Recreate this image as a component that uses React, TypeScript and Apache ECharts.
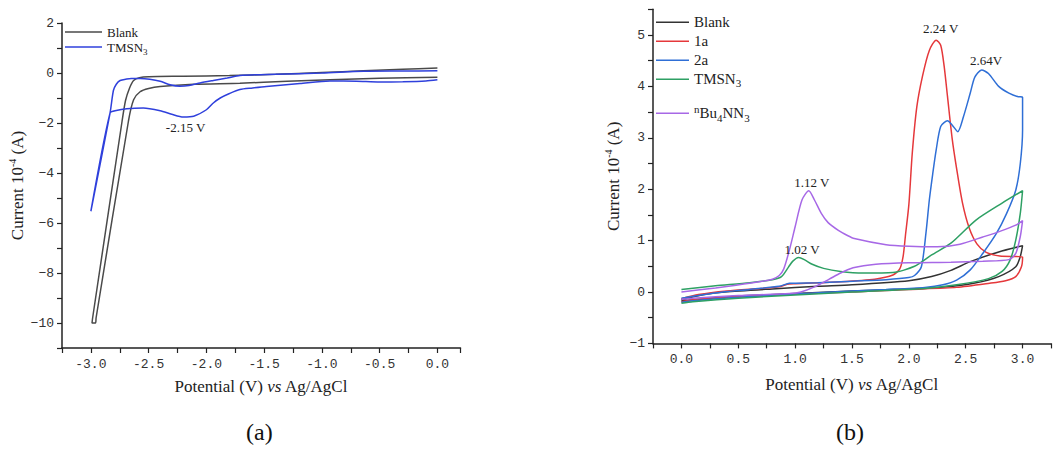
import React, { useEffect, useRef } from "react";
import * as echarts from "echarts";

type P = [number, number];

// ---------- Panel (a): potential (V) vs current (1e-4 A) ----------
const blankA: P[] = [
  [0, 0.2], [-0.3, 0.15], [-0.64, 0.09], [-1.0, 0.02], [-1.4, -0.05], [-1.8, -0.1], [-2.2, -0.13],
  [-2.5, -0.15], [-2.58, -0.19], [-2.63, -0.3], [-2.665, -0.6], [-2.7, -1.1], [-2.73, -1.93],
  [-2.985, -9.8], [-2.99, -10], [-2.96, -10], [-2.955, -9.8], [-2.675, -1.93], [-2.63, -1.07],
  [-2.574, -0.75], [-2.5, -0.62], [-2.4, -0.54], [-2.11, -0.45], [-1.71, -0.41], [-1.3, -0.33],
  [-0.93, -0.27], [-0.5, -0.21], [0, -0.17],
];
const tmsnA: P[] = [
  [0, 0.09], [-0.3, 0.08], [-0.64, 0.07], [-1.0, 0.0], [-1.4, -0.05], [-1.71, -0.1], [-1.82, -0.2],
  [-1.94, -0.3], [-2.055, -0.4], [-2.15, -0.5], [-2.23, -0.53], [-2.314, -0.47], [-2.4, -0.33],
  [-2.49, -0.25], [-2.574, -0.22], [-2.65, -0.22], [-2.69, -0.24], [-2.747, -0.3], [-2.78, -0.45],
  [-2.805, -0.7], [-2.834, -1.6], [-3.0, -5.53], [-2.834, -1.6], [-2.78, -1.5], [-2.69, -1.43],
  [-2.546, -1.4], [-2.4, -1.51], [-2.3, -1.65], [-2.2, -1.76], [-2.11, -1.73], [-2.0, -1.47],
  [-1.94, -1.2], [-1.88, -1.0], [-1.8, -0.82], [-1.71, -0.66], [-1.6, -0.6], [-1.48, -0.54],
  [-1.19, -0.42], [-0.93, -0.32], [-0.7, -0.33], [-0.5, -0.36], [-0.3, -0.35], [-0.1, -0.32],
  [0, -0.27],
];

// ---------- Panel (b) ----------
const blankB: P[] = [
  [0, -0.15], [0.2, -0.05], [0.38, 0.0], [0.8, 0.06], [1.2, 0.11], [1.5, 0.14], [2.0, 0.22],
  [2.2, 0.3], [2.37, 0.42], [2.54, 0.59], [2.79, 0.78], [3.0, 0.9], [2.98, 0.69], [2.94, 0.49],
  [2.79, 0.3], [2.57, 0.17], [2.28, 0.09], [2.0, 0.06], [1.5, 0.02], [1.0, -0.03], [0.5, -0.08],
  [0.1, -0.15], [0, -0.17],
];
const red1a: P[] = [
  [0, -0.13], [0.15, -0.05], [0.4, 0.02], [0.7, 0.07], [0.86, 0.1], [0.93, 0.15], [1.0, 0.16],
  [1.4, 0.2], [1.7, 0.25], [1.86, 0.33], [1.92, 0.45], [1.95, 0.7], [1.97, 1.1], [2.0, 1.7],
  [2.03, 2.7], [2.07, 3.6], [2.12, 4.2], [2.18, 4.7], [2.24, 4.9], [2.28, 4.8], [2.31, 4.4],
  [2.34, 3.8], [2.38, 3.0], [2.42, 2.4], [2.47, 1.75], [2.53, 1.25], [2.6, 0.93], [2.68, 0.77],
  [2.8, 0.7], [3.0, 0.68], [2.99, 0.49], [2.94, 0.3], [2.85, 0.22], [2.71, 0.17], [2.42, 0.09],
  [2.0, 0.05], [1.5, 0.0], [1.0, -0.04], [0.5, -0.09], [0.1, -0.15], [0, -0.19],
];
const blue2a: P[] = [
  [0, -0.12], [0.3, -0.02], [0.6, 0.05], [0.86, 0.11], [0.95, 0.17], [1.2, 0.18], [1.51, 0.21],
  [1.8, 0.24], [2.0, 0.28], [2.05, 0.32], [2.11, 0.49], [2.15, 1.14], [2.18, 1.79], [2.21, 2.3],
  [2.24, 2.76], [2.28, 3.22], [2.34, 3.33], [2.38, 3.25], [2.43, 3.12], [2.48, 3.41], [2.54, 3.87],
  [2.58, 4.18], [2.64, 4.32], [2.7, 4.25], [2.79, 4.0], [2.88, 3.87], [2.96, 3.8], [3.0, 3.79],
  [3.0, 3.15], [2.98, 2.5], [2.94, 1.98], [2.86, 1.53], [2.77, 1.14], [2.65, 0.75], [2.54, 0.43],
  [2.42, 0.23], [2.3, 0.14], [2.14, 0.09], [1.8, 0.05], [1.5, 0.02], [1.0, -0.04], [0.5, -0.1],
  [0.1, -0.17], [0, -0.2],
];
const tmsnB: P[] = [
  [0, 0.05], [0.3, 0.12], [0.6, 0.18], [0.8, 0.24], [0.88, 0.3], [0.94, 0.48], [0.98, 0.6],
  [1.03, 0.67], [1.08, 0.63], [1.15, 0.54], [1.25, 0.46], [1.4, 0.4], [1.6, 0.37], [1.86, 0.38],
  [2.05, 0.5], [2.2, 0.72], [2.37, 0.95], [2.59, 1.4], [2.82, 1.73], [3.0, 1.97], [2.98, 1.53],
  [2.94, 1.01], [2.89, 0.62], [2.82, 0.4], [2.7, 0.26], [2.42, 0.14], [2.14, 0.07], [1.5, 0.0],
  [1.0, -0.06], [0.5, -0.12], [0.1, -0.19], [0, -0.22],
];
const bu4nn3: P[] = [
  [0, 0.0], [0.3, 0.08], [0.6, 0.17], [0.8, 0.25], [0.86, 0.32], [0.9, 0.45], [0.95, 0.82],
  [1.0, 1.27], [1.06, 1.79], [1.12, 1.97], [1.17, 1.79], [1.23, 1.53], [1.29, 1.35], [1.38, 1.2],
  [1.46, 1.1], [1.52, 1.04], [1.8, 0.92], [2.0, 0.89], [2.25, 0.88], [2.45, 0.93], [2.65, 1.07],
  [2.8, 1.18], [2.94, 1.3], [3.0, 1.39], [2.98, 1.08], [2.94, 0.75], [2.88, 0.63], [2.65, 0.6],
  [2.37, 0.58], [2.0, 0.57], [1.71, 0.54], [1.51, 0.47], [1.4, 0.37], [1.3, 0.25], [1.17, 0.1],
  [1.05, 0.0], [0.95, -0.03], [0.5, -0.07], [0.1, -0.12], [0, -0.14],
];

// peak annotations: [x, y, text]
const peakA: [number, number, string][] = [[-2.18, -2.19, "-2.15 V"]];
const peak1a: [number, number, string][] = [[2.28, 5.12, "2.24 V"]];
const peak2a: [number, number, string][] = [[2.68, 4.51, "2.64V"]];
const peakBu: [number, number, string][] = [[1.146, 2.13, "1.12 V"]];
const peakTm: [number, number, string][] = [[1.06, 0.83, "1.02 V"]];

const SERIF = "'Liberation Serif', 'Times New Roman', serif";
const MONO = "'Liberation Mono', 'Courier New', monospace";
const AX = "#222";

const legendNames: Record<string, string> = {
  "Blank (a)": "{n|Blank}",
  "TMSN3 (a)": "{t|TMSN}{s|3}",
  "Blank (b)": "{n|Blank}",
  "1a": "{n|1a}",
  "2a": "{n|2a}",
  "TMSN3 (b)": "{t|TMSN}{s|3}",
  nBu4NN3: "{p|n}{m|Bu}{q|4}{m|NN}{q|3}",
};

const half = (v: number) => Math.abs(v * 2 - Math.round(v * 2)) < 1e-6;

function mark(list: [number, number, string][]) {
  return {
    silent: true,
    symbol: "circle",
    symbolSize: 1,
    itemStyle: { color: "rgba(0,0,0,0)" },
    label: {
      show: true,
      position: "inside",
      color: "#222",
      fontFamily: SERIF,
      fontSize: 13,
      formatter: (p: any) => p.name,
    },
    data: list.map(([x, y, t]) => ({ name: t, coord: [x, y] })),
  };
}

function line(name: string, data: P[], color: string, gi: number, marks?: [number, number, string][]) {
  return {
    name,
    type: "line",
    xAxisIndex: gi,
    yAxisIndex: gi,
    data,
    symbol: "none",
    smooth: 0.25,
    lineStyle: { color, width: 1.5 },
    itemStyle: { color },
    markPoint: marks ? mark(marks) : undefined,
  };
}

function xAxisBase(gi: number, min: number, max: number) {
  return {
    type: "value",
    gridIndex: gi,
    min,
    max,
    interval: 0.25,
    name: "{a|Potential (V) }{i|vs}{a| Ag/AgCl}",
    nameLocation: "middle",
    nameGap: 30,
    nameTextStyle: {
      rich: {
        a: { fontFamily: SERIF, fontSize: 17, color: AX },
        i: { fontFamily: SERIF, fontSize: 17, fontStyle: "italic", color: AX },
      },
    },
    axisLine: { show: true, onZero: false, lineStyle: { color: AX, width: 1.5 } },
    axisTick: { show: true, length: 5, lineStyle: { color: AX, width: 1.2 } },
    splitLine: { show: false },
    axisLabel: {
      color: "#333",
      fontFamily: MONO,
      fontSize: 13,
      margin: 10,
      formatter: (v: number) => (half(v) ? v.toFixed(1) : ""),
    },
  };
}

function yAxisBase(gi: number, min: number, max: number, interval: number, fmt: (v: number) => string, gap: number) {
  return {
    type: "value",
    gridIndex: gi,
    min,
    max,
    interval,
    name: "{a|Current 10}{b|-4}{a| (A)}",
    nameLocation: "middle",
    nameGap: gap,
    nameRotate: 90,
    nameTextStyle: {
      rich: {
        a: { fontFamily: SERIF, fontSize: 17, lineHeight: 20, color: AX },
        b: { fontFamily: SERIF, fontSize: 10, lineHeight: 8, verticalAlign: "top", color: AX },
      },
    },
    axisLine: { show: true, onZero: false, lineStyle: { color: AX, width: 1.5 } },
    axisTick: { show: true, length: 5, lineStyle: { color: AX, width: 1.2 } },
    splitLine: { show: false },
    axisLabel: { color: "#333", fontFamily: MONO, fontSize: 13, margin: 8, formatter: fmt },
  };
}

const richB = {
  n: { fontFamily: SERIF, fontSize: 15, lineHeight: 16, color: "#222" },
  t: { fontFamily: SERIF, fontSize: 15, lineHeight: 18, color: "#222" },
  s: { fontFamily: SERIF, fontSize: 11, lineHeight: 6, verticalAlign: "bottom", color: "#222" },
  m: { fontFamily: SERIF, fontSize: 15, lineHeight: 20, color: "#222" },
  p: { fontFamily: SERIF, fontSize: 11, lineHeight: 6, verticalAlign: "top", color: "#222" },
  q: { fontFamily: SERIF, fontSize: 11, lineHeight: 6, verticalAlign: "bottom", color: "#222" },
};

export default function App() {
  const ref = useRef<HTMLDivElement>(null);
  useEffect(() => {
    const chart = echarts.init(ref.current!, null, { renderer: "svg" });
    const legendCommon = {
      orient: "vertical",
      padding: 0,
      icon: "rect",
      itemHeight: 1.5,
      formatter: (n: string) => legendNames[n],
    };
    const option: any = {
      animation: false,
      backgroundColor: "#fff",
      textStyle: { fontFamily: SERIF },
      grid: [
        { left: 62, top: 23, right: 593.5, bottom: 102 },
        { left: 653, top: 9.3, right: -9.6, bottom: 106.6 },
      ],
      xAxis: [xAxisBase(0, -3.25, 0.2), { ...xAxisBase(1, -0.25, 3.25), nameGap: 33 }],
      yAxis: [
        yAxisBase(0, -11, 2, 1, (v: number) => (v % 2 === 0 ? String(v).replace("-", "−") : ""), 35),
        yAxisBase(1, -1, 5.5, 0.5, (v: number) => (Number.isInteger(v) ? String(v).replace("-", "−") : ""), 30),
      ],
      legend: [
        {
          ...legendCommon,
          left: 65,
          top: 25.5,
          itemGap: 2,
          itemWidth: 37,
          data: ["Blank (a)", "TMSN3 (a)"],
          textStyle: {
            rich: {
              n: { fontFamily: SERIF, fontSize: 13, lineHeight: 15, color: "#222" },
              t: { fontFamily: SERIF, fontSize: 13, lineHeight: 19, color: "#222" },
              s: { fontFamily: SERIF, fontSize: 9, lineHeight: 5, verticalAlign: "bottom", color: "#222" },
            },
          },
        },
        {
          ...legendCommon,
          left: 656,
          top: 14.7,
          itemGap: 4,
          itemWidth: 33,
          data: ["Blank (b)", "1a", "2a", "TMSN3 (b)"],
          textStyle: { rich: richB },
        },
        {
          ...legendCommon,
          left: 656,
          top: 103.3,
          itemGap: 4,
          itemWidth: 33,
          data: ["nBu4NN3"],
          textStyle: { rich: richB },
        },
      ],
      series: [
        line("Blank (a)", blankA, "#4a4a4a", 0),
        line("TMSN3 (a)", tmsnA, "#2f40dc", 0, peakA),
        line("Blank (b)", blankB, "#333333", 1),
        line("1a", red1a, "#e5383b", 1, peak1a),
        line("2a", blue2a, "#2f6fd6", 1, peak2a),
        line("TMSN3 (b)", tmsnB, "#2ea064", 1, peakTm),
        line("nBu4NN3", bu4nn3, "#a768e6", 1, peakBu),
      ],
      graphic: [
        { type: "text", left: 246, top: 420, style: { text: "(a)", font: `24px ${SERIF}`, fill: "#111" } },
        { type: "text", left: 836, top: 420, style: { text: "(b)", font: `24px ${SERIF}`, fill: "#111" } },
      ],
    };
    chart.setOption(option);
    return () => chart.dispose();
  }, []);
  return (
    <div
      ref={ref}
      style={{ position: "absolute", left: 0, top: 0, width: 1054, height: 450, background: "#fff" }}
    />
  );
}
